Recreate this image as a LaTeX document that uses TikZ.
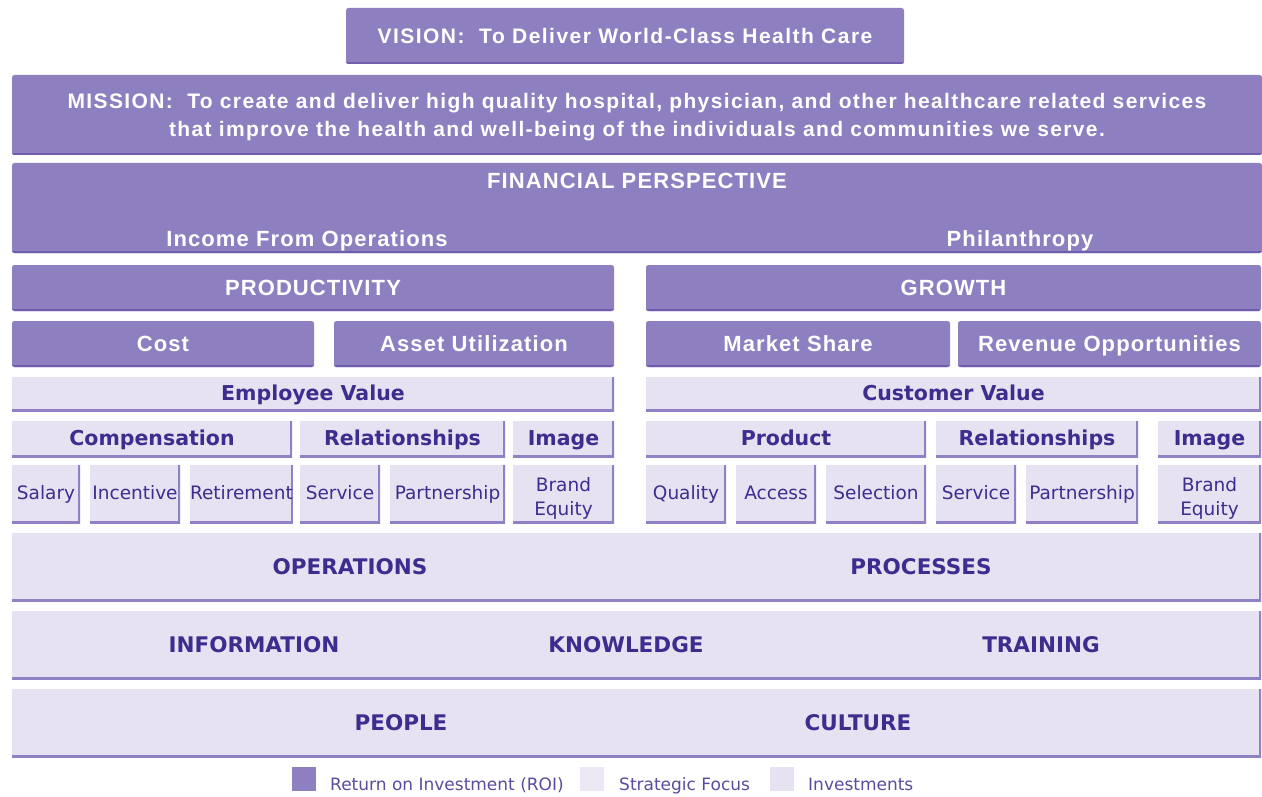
\documentclass[tikz,border=0pt]{standalone}
\usepackage{fontspec}
\setmainfont{Liberation Sans}
\newfontfamily\pixfont{DejaVu Sans}
\definecolor{dkfill}{HTML}{8E7FC1}
\definecolor{dkedge}{HTML}{6F5DAE}
\definecolor{ltfill}{HTML}{E6E2F1}
\definecolor{ltedge}{HTML}{8F81C4}
\definecolor{ink}{HTML}{3E2C8E}
\definecolor{focus}{HTML}{ECE9F5}

\begin{document}
\begin{tikzpicture}[x=1pt,y=-1pt,
  box/.style={anchor=north west, inner sep=0pt, outer sep=0pt},
  whitefont/.style={font=\bfseries\fontsize{#1}{28}\selectfont\addfontfeature{LetterSpace=5}},
  dbox/.style={box, fill=dkfill, rounded corners=2.5pt, text=white, whitefont=22,
    text height=20pt, text depth=5pt,
    path picture={\draw[dkedge, line width=4pt]
      (path picture bounding box.south west) -- (path picture bounding box.south east);}},
  lbox/.style={box, fill=ltfill, text=ink,
    path picture={\draw[ltedge, line width=3.2pt]
      (path picture bounding box.north east) -- (path picture bounding box.south east)
      -- (path picture bounding box.south west);}},
  head/.style={lbox, font=\pixfont\bfseries\fontsize{20.5}{24}\selectfont,
    text height=18pt, text depth=4.5pt},
  itemfont/.style={font=\pixfont\fontsize{18.5}{24}\selectfont},
  item/.style={lbox, itemfont, text height=15.5pt, text depth=4pt},
  brand/.style={lbox, label={[itemfont, text=ink, align=center, inner sep=0pt, yshift=-4pt]center:{Brand\\Equity}}},
  band/.style={lbox},
  wlab/.style={text=white, whitefont=22, inner sep=0pt, text height=16pt, text depth=5pt},
  blab/.style={text=ink, font=\pixfont\bfseries\fontsize{21.5}{26}\selectfont, inner sep=0pt},
  key/.style={box, minimum width=24pt, minimum height=24pt},
  keylab/.style={anchor=west, inner sep=0pt, text=ink!85, text height=12pt, text depth=4pt,
    font=\pixfont\fontsize{17}{20}\selectfont}
]
\useasboundingbox (0,0) rectangle (1262,797);
\fill[white] (0,0) rectangle (1262,797);

% vision and mission
\node[dbox, minimum width=558pt, minimum height=56pt,
  font=\bfseries\fontsize{21}{24}\selectfont\addfontfeature{LetterSpace=7}] (vision) at (346,8)
  {VISION:\ \ To Deliver World-Class Health Care};
\node[dbox, minimum width=1250pt, minimum height=80pt] (mission) at (12,75) {};
\node[text=white, inner sep=0pt, align=center,
  font=\bfseries\fontsize{21}{28}\selectfont\addfontfeature{LetterSpace=6.5}] (missiontext) at (637,117)
  {MISSION:\ \ To create and deliver high quality hospital, physician, and other healthcare related services\\
   that improve the health and well-being of the individuals and communities we serve.};

% financial perspective
\node[dbox, minimum width=1250pt, minimum height=90pt] (financial) at (12,163) {};
\node[wlab] (fintitle) at (637,183.5) {FINANCIAL PERSPECTIVE};
\node[wlab] (income) at (307,240.5) {Income From Operations};
\node[wlab] (philan) at (1020,240.5) {Philanthropy};

% productivity and growth
\node[dbox, minimum width=602pt, minimum height=46pt] (productivity) at (12,265) {PRODUCTIVITY};
\node[dbox, minimum width=615pt, minimum height=46pt] (growth) at (646,265) {GROWTH};
\node[dbox, minimum width=302pt, minimum height=46pt] (cost) at (12,321) {Cost};
\node[dbox, minimum width=280pt, minimum height=46pt] (asset) at (334,321) {Asset Utilization};
\node[dbox, minimum width=304pt, minimum height=46pt] (market) at (646,321) {Market Share};
\node[dbox, minimum width=303pt, minimum height=46pt] (revenue) at (958,321) {Revenue Opportunities};

% value propositions
\node[head, minimum width=602pt, minimum height=34pt] (empval) at (12,377) {Employee Value};
\node[head, minimum width=615pt, minimum height=34pt] (custval) at (646,377) {Customer Value};

\node[head, minimum width=280pt, minimum height=36pt] (comp) at (12,421) {Compensation};
\node[head, minimum width=205pt, minimum height=36pt] (relA) at (300,421) {Relationships};
\node[head, minimum width=101pt, minimum height=36pt] (imgA) at (513,421) {Image};
\node[head, minimum width=280pt, minimum height=36pt] (prod) at (646,421) {Product};
\node[head, minimum width=202pt, minimum height=36pt] (relB) at (936,421) {Relationships};
\node[head, minimum width=103pt, minimum height=36pt] (imgB) at (1158,421) {Image};

\node[item, minimum width=68pt, minimum height=58pt] (salary) at (12,465) {Salary};
\node[item, minimum width=90pt, minimum height=58pt] (incentive) at (90,465) {Incentive};
\node[item, minimum width=102pt, minimum height=58pt] (retire) at (190,465) {Retirement};
\node[item, minimum width=80pt, minimum height=58pt] (servA) at (300,465) {Service};
\node[item, minimum width=115pt, minimum height=58pt] (partA) at (390,465) {Partnership};
\node[brand, minimum width=101pt, minimum height=58pt] (brandA) at (513,465) {};
\node[item, minimum width=80pt, minimum height=58pt] (quality) at (646,465) {Quality};
\node[item, minimum width=80pt, minimum height=58pt] (access) at (736,465) {Access};
\node[item, minimum width=100pt, minimum height=58pt] (select) at (826,465) {Selection};
\node[item, minimum width=80pt, minimum height=58pt] (servB) at (936,465) {Service};
\node[item, minimum width=112pt, minimum height=58pt] (partB) at (1026,465) {Partnership};
\node[brand, minimum width=103pt, minimum height=58pt] (brandB) at (1158,465) {};

% investment bands
\node[band, minimum width=1249pt, minimum height=68pt] (opsband) at (12,533) {};
\node[blab] (operations) at (350,566.5) {OPERATIONS};
\node[blab] (processes) at (921,566.5) {PROCESSES};
\node[band, minimum width=1249pt, minimum height=68pt] (knowband) at (12,611) {};
\node[blab] (information) at (254,644.5) {INFORMATION};
\node[blab] (knowledge) at (626,644.5) {KNOWLEDGE};
\node[blab] (training) at (1041,644.5) {TRAINING};
\node[band, minimum width=1249pt, minimum height=68pt] (peopleband) at (12,689) {};
\node[blab] (people) at (401,722.5) {PEOPLE};
\node[blab] (culture) at (858,722.5) {CULTURE};

% legend
\node[key, fill=dkfill] (keyroi) at (292,767) {};
\node[keylab] (keyroilab) at (330,786) {Return on Investment (ROI)};
\node[key, fill=focus] (keyfocus) at (580,767) {};
\node[keylab] (keyfocuslab) at (619,786) {Strategic Focus};
\node[key, fill=ltfill] (keyinv) at (770,767) {};
\node[keylab] (keyinvlab) at (808,786) {Investments};
\end{tikzpicture}
\end{document}
